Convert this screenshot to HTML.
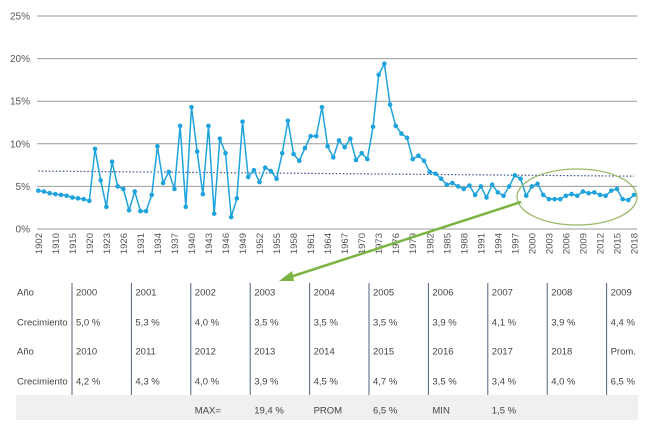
<!DOCTYPE html>
<html><head><meta charset="utf-8"><style>
body{margin:0;background:#fff;width:646px;height:427px;overflow:hidden;font-family:"Liberation Sans",sans-serif;}
svg{position:absolute;left:0;top:0}
</style></head><body>
<svg id="chart" width="646" height="427" viewBox="0 0 646 427" xmlns="http://www.w3.org/2000/svg"></svg>
<script>
const years = [1902,1905,1908,1910,1912,1914,1915,1917,1919,1920,1921,1922,1923,1924,1925,1926,1929,1930,
1931,1932,1933,1934,1935,1936,1937,1938,1939,1940,1941,1942,1943,1944,1945,1946,1947,1948,1949,1950,1951,1952,1953,1954,1955,1956,1957,1958,1959,1960,1961,1962,1963,1964,1965,1966,1967,1968,1969,1970,1971,1972,1973,1974,1975,1976,1977,1978,1979,1980,1981,1982,1983,1984,1985,1986,1987,1988,1989,1990,1991,1992,1993,1994,1995,1996,1997,1998,1999,2000,2001,2002,2003,2004,2005,2006,2007,2008,2009,2010,2011,2012,2013,2014,2015,2016,2017,2018];
const growth = [4.5,4.4,4.2,4.1,4.0,3.9,3.7,3.6,3.5,3.3,9.4,5.7,2.6,7.9,5.0,4.7,2.2,4.4,2.1,2.1,4.0,9.7,5.4,6.7,4.7,12.1,2.6,14.3,9.1,4.1,12.1,1.8,10.6,8.9,1.4,3.6,12.6,6.1,6.9,5.5,7.2,6.8,5.9,8.9,12.7,8.8,8.0,9.5,10.9,10.9,14.3,9.7,8.4,10.4,9.6,10.6,8.1,8.9,8.2,12.0,18.1,19.4,14.6,12.1,11.2,10.7,8.2,8.6,8.0,6.7,6.5,5.9,5.2,5.4,5.0,4.7,5.1,4.0,5.0,3.7,5.2,4.3,3.9,5.0,6.3,5.9,3.9,5.0,5.3,4.0,3.5,3.5,3.5,3.9,4.1,3.9,4.4,4.2,4.3,4.0,3.9,4.5,4.7,3.5,3.4,4.0];
const yTicks = [0,5,10,15,20,25];
const yTickLabels = ["0%","5%","10%","15%","20%","25%"];
const trendStart = 6.8, trendEnd = 6.2;
const tableYears1 = ["2000","2001","2002","2003","2004","2005","2006","2007","2008","2009"];
const tableVals1 = ["5,0 %","5,3 %","4,0 %","3,5 %","3,5 %","3,5 %","3,9 %","4,1 %","3,9 %","4,4 %"];
const tableYears2 = ["2010","2011","2012","2013","2014","2015","2016","2017","2018","Prom."];
const tableVals2 = ["4,2 %","4,3 %","4,0 %","3,9 %","4,5 %","4,7 %","3,5 %","3,4 %","4,0 %","6,5 %"];
const summary = [["","",""],["","MAX=","19,4 %"]];

const NS="http://www.w3.org/2000/svg";
const svg=document.getElementById('chart');
function mk(t,a,p){const e=document.createElementNS(NS,t);for(const k in a)e.setAttribute(k,a[k]);(p||svg).appendChild(e);return e;}
const x0=38.3,x1=634,y0=229,y25=16;
const xs=i=>x0+(x1-x0)*i/(years.length-1);
const ys=v=>y0-(y0-y25)*v/25;

// grid
yTicks.forEach((t,i)=>{
  const g=mk('line',{x1:37,x2:637,y1:ys(t),y2:ys(t),stroke:'#9a9a9a','stroke-width':1});
  
  
  const l=mk('text',{x:30,y:ys(t)+3.5,'text-anchor':'end','font-size':10,fill:'#555'});
  l.textContent=yTickLabels[i];
  
  
});
// x labels
years.forEach((yr,i)=>{
  if(i%3!==0)return;
  const t=mk('text',{x:0,y:0,'text-anchor':'end','font-size':9.5,fill:'#555',transform:`translate(${xs(i)+3.5},233) rotate(-90)`});
  t.textContent=yr;
  
  
});
// trend
const tr=mk('line',{x1:x0,x2:x1,y1:ys(trendStart),y2:ys(trendEnd),stroke:'#3a4f8a','stroke-width':1.2,'stroke-dasharray':'1.5,2'});


// series
const pl=mk('polyline',{points:growth.map((v,i)=>xs(i)+','+ys(v)).join(' '),fill:'none',stroke:'#1ea3dc','stroke-width':1.5});


growth.forEach((v,i)=>{
  const c=mk('circle',{cx:xs(i),cy:ys(v),r:2.3,fill:'#1ea3dc'});
  
  
});
// ellipse + arrow
const el=mk('ellipse',{cx:577,cy:197,rx:60,ry:28,fill:'none',stroke:'#9ab86a','stroke-width':1.3});


const ar=mk('line',{x1:521,y1:202,x2:290,y2:277,stroke:'#7cb342','stroke-width':2.5});


const ah=mk('polygon',{points:'279,281 292,271 294,281',fill:'#7cb342'});



// table
const band=mk('rect',{x:16,y:395,width:622,height:25,fill:'#f0f0f0'});


const colX=i=>72+59.4*i;
for(let i=0;i<10;i++){
  const ln=mk('line',{x1:colX(i),x2:colX(i),y1:283,y2:395,stroke:'#50607e','stroke-width':1});
  
  
}
function txt(x,y,s,name){const t=mk('text',{x:x,y:y,'font-size':9.5,fill:'#444'});t.textContent=s;}
const rows=[[292,'Año',tableYears1],[322,'Crecimiento',tableVals1],[351,'Año',tableYears2],[381,'Crecimiento',tableVals2]];
rows.forEach(r=>{
  txt(17,r[0]+3.5,r[1],'row-label');
  r[2].forEach((s,i)=>txt(colX(i)+4,r[0]+3.5,s,'table-cell'));
});
const sumCells=[[2,'MAX='],[3,'19,4 %'],[4,'PROM'],[5,'6,5 %'],[6,'MIN'],[7,'1,5 %']];
sumCells.forEach(c=>txt(colX(c[0])+4,413.5,c[1],'summary-cell'));
</script>
</body></html>
